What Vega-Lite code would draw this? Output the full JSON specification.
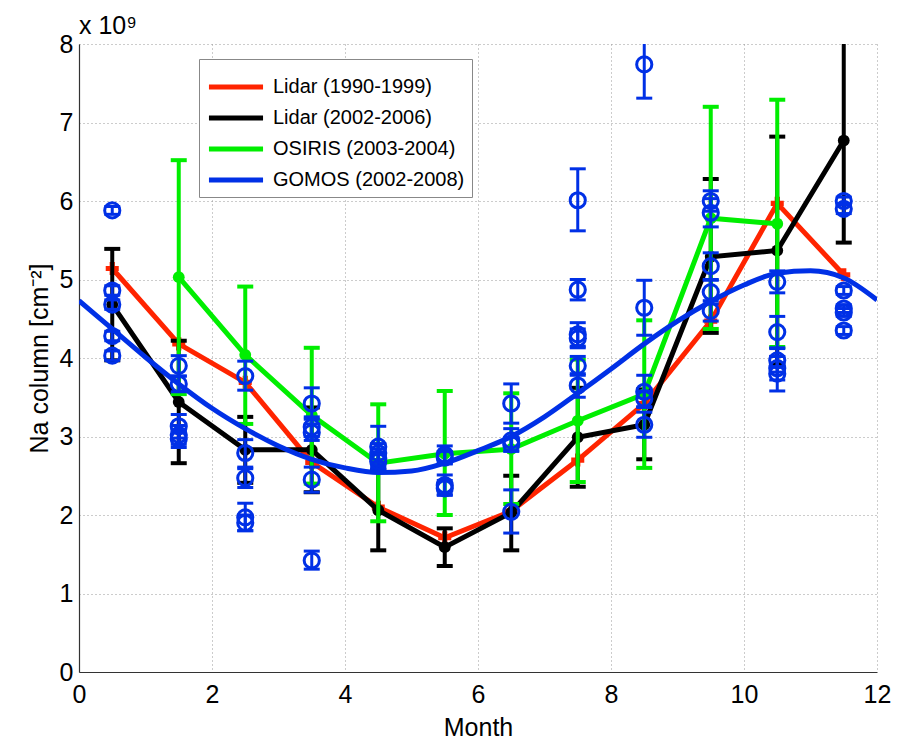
{
  "$schema": "https://vega.github.io/schema/vega-lite/v6.json",
  "width": 798,
  "height": 628,
  "autosize": {"type": "none"},
  "padding": {"left": 79, "top": 44, "right": 28, "bottom": 76},
  "background": "white",
  "title": {"text": "x 10⁹", "anchor": "start", "frame": "group", "fontSize": 25, "fontWeight": "normal", "font": "Liberation Sans", "color": "black", "offset": -7},
  "config": {
    "font": "Liberation Sans",
    "view": {"stroke": null},
    "axis": {
      "labelFont": "Liberation Sans", "labelFontSize": 25, "labelColor": "black", "labelFlush": false,
      "titleFont": "Liberation Sans", "titleFontSize": 25, "titleFontWeight": "normal", "titleColor": "black",
      "domainColor": "#333", "domainWidth": 1.2,
      "ticks": false,
      "grid": true, "gridColor": "#999", "gridDash": [1, 3], "gridWidth": 1, "gridOpacity": 1
    },
    "legend": {
      "orient": "none", "legendX": 120, "legendY": 15,
      "title": null,
      "symbolType": "M-1.5,0H1.5", "symbolSize": 1300, "symbolStrokeWidth": 5, "symbolOffset": 9,
      "labelFont": "Liberation Sans", "labelFontSize": 20, "labelColor": "black", "labelOffset": 16, "labelLimit": 400,
      "strokeColor": "#888", "fillColor": "white", "padding": 7, "rowPadding": -2
    }
  },
  "datasets": {
    "red": [
      {"month": 0.5, "na": 5.14, "series": "Lidar (1990-1999)"},
      {"month": 1.5, "na": 4.18, "series": "Lidar (1990-1999)"},
      {"month": 2.5, "na": 3.69, "series": "Lidar (1990-1999)"},
      {"month": 3.5, "na": 2.67, "series": "Lidar (1990-1999)"},
      {"month": 4.5, "na": 2.1, "series": "Lidar (1990-1999)"},
      {"month": 5.5, "na": 1.71, "series": "Lidar (1990-1999)"},
      {"month": 6.5, "na": 2.05, "series": "Lidar (1990-1999)"},
      {"month": 7.5, "na": 2.7, "series": "Lidar (1990-1999)"},
      {"month": 8.5, "na": 3.42, "series": "Lidar (1990-1999)"},
      {"month": 9.5, "na": 4.47, "series": "Lidar (1990-1999)"},
      {"month": 10.5, "na": 5.97, "series": "Lidar (1990-1999)"},
      {"month": 11.5, "na": 5.06, "series": "Lidar (1990-1999)"}
    ],
    "black": [
      {"month": 0.5, "na": 4.68, "lo": 3.97, "hi": 5.39, "series": "Lidar (2002-2006)"},
      {"month": 1.5, "na": 3.44, "lo": 2.66, "hi": 4.22, "series": "Lidar (2002-2006)"},
      {"month": 2.5, "na": 2.83, "lo": 2.41, "hi": 3.25, "series": "Lidar (2002-2006)"},
      {"month": 3.5, "na": 2.83, "lo": 2.29, "hi": 3.37, "series": "Lidar (2002-2006)"},
      {"month": 4.5, "na": 2.06, "lo": 1.55, "hi": 2.57, "series": "Lidar (2002-2006)"},
      {"month": 5.5, "na": 1.59, "lo": 1.35, "hi": 1.83, "series": "Lidar (2002-2006)"},
      {"month": 6.5, "na": 2.03, "lo": 1.55, "hi": 2.5, "series": "Lidar (2002-2006)"},
      {"month": 7.5, "na": 2.99, "lo": 2.36, "hi": 3.62, "series": "Lidar (2002-2006)"},
      {"month": 8.5, "na": 3.15, "lo": 2.71, "hi": 3.6, "series": "Lidar (2002-2006)"},
      {"month": 9.5, "na": 5.29, "lo": 4.32, "hi": 6.28, "series": "Lidar (2002-2006)"},
      {"month": 10.5, "na": 5.37, "lo": 3.92, "hi": 6.82, "series": "Lidar (2002-2006)"},
      {"month": 11.5, "na": 6.77, "lo": 5.47, "hi": 8.07, "series": "Lidar (2002-2006)"}
    ],
    "green": [
      {"month": 1.5, "na": 5.03, "lo": 3.54, "hi": 6.52, "series": "OSIRIS (2003-2004)"},
      {"month": 2.5, "na": 4.04, "lo": 3.16, "hi": 4.91, "series": "OSIRIS (2003-2004)"},
      {"month": 3.5, "na": 3.27, "lo": 2.4, "hi": 4.13, "series": "OSIRIS (2003-2004)"},
      {"month": 4.5, "na": 2.66, "lo": 1.92, "hi": 3.41, "series": "OSIRIS (2003-2004)"},
      {"month": 5.5, "na": 2.78, "lo": 2.0, "hi": 3.58, "series": "OSIRIS (2003-2004)"},
      {"month": 6.5, "na": 2.84, "lo": 2.14, "hi": 3.55, "series": "OSIRIS (2003-2004)"},
      {"month": 7.5, "na": 3.2, "lo": 2.42, "hi": 3.98, "series": "OSIRIS (2003-2004)"},
      {"month": 8.5, "na": 3.54, "lo": 2.6, "hi": 4.48, "series": "OSIRIS (2003-2004)"},
      {"month": 9.5, "na": 5.78, "lo": 4.37, "hi": 7.2, "series": "OSIRIS (2003-2004)"},
      {"month": 10.5, "na": 5.71, "lo": 4.14, "hi": 7.29, "series": "OSIRIS (2003-2004)"}
    ],
    "gomosfit": [
      {"month": 0, "na": 4.73, "series": "GOMOS (2002-2008)"},
      {"month": 0.5, "na": 4.37, "series": "GOMOS (2002-2008)"},
      {"month": 1, "na": 4.01, "series": "GOMOS (2002-2008)"},
      {"month": 1.5, "na": 3.67, "series": "GOMOS (2002-2008)"},
      {"month": 2, "na": 3.36, "series": "GOMOS (2002-2008)"},
      {"month": 2.5, "na": 3.1, "series": "GOMOS (2002-2008)"},
      {"month": 3, "na": 2.88, "series": "GOMOS (2002-2008)"},
      {"month": 3.5, "na": 2.71, "series": "GOMOS (2002-2008)"},
      {"month": 4, "na": 2.6, "series": "GOMOS (2002-2008)"},
      {"month": 4.5, "na": 2.54, "series": "GOMOS (2002-2008)"},
      {"month": 5, "na": 2.56, "series": "GOMOS (2002-2008)"},
      {"month": 5.5, "na": 2.66, "series": "GOMOS (2002-2008)"},
      {"month": 6, "na": 2.82, "series": "GOMOS (2002-2008)"},
      {"month": 6.5, "na": 3.0, "series": "GOMOS (2002-2008)"},
      {"month": 7, "na": 3.25, "series": "GOMOS (2002-2008)"},
      {"month": 7.5, "na": 3.55, "series": "GOMOS (2002-2008)"},
      {"month": 8, "na": 3.86, "series": "GOMOS (2002-2008)"},
      {"month": 8.5, "na": 4.18, "series": "GOMOS (2002-2008)"},
      {"month": 9, "na": 4.47, "series": "GOMOS (2002-2008)"},
      {"month": 9.5, "na": 4.72, "series": "GOMOS (2002-2008)"},
      {"month": 10, "na": 4.93, "series": "GOMOS (2002-2008)"},
      {"month": 10.5, "na": 5.08, "series": "GOMOS (2002-2008)"},
      {"month": 11, "na": 5.11, "series": "GOMOS (2002-2008)"},
      {"month": 11.5, "na": 5.02, "series": "GOMOS (2002-2008)"},
      {"month": 12, "na": 4.74, "series": "GOMOS (2002-2008)"}
    ],
    "gomos": [
      {"month": 0.5, "na": 5.88, "lo": 5.83, "hi": 5.93},
      {"month": 0.5, "na": 4.86, "lo": 4.8, "hi": 4.92},
      {"month": 0.5, "na": 4.68, "lo": 4.62, "hi": 4.74},
      {"month": 0.5, "na": 4.28, "lo": 4.22, "hi": 4.34},
      {"month": 0.5, "na": 4.03, "lo": 3.97, "hi": 4.09},
      {"month": 1.5, "na": 3.9, "lo": 3.77, "hi": 4.03},
      {"month": 1.5, "na": 3.67, "lo": 3.57, "hi": 3.77},
      {"month": 1.5, "na": 3.13, "lo": 2.98, "hi": 3.28},
      {"month": 1.5, "na": 3.02, "lo": 2.9, "hi": 3.14},
      {"month": 1.5, "na": 2.97, "lo": 2.86, "hi": 3.08},
      {"month": 2.5, "na": 3.77, "lo": 3.59, "hi": 3.96},
      {"month": 2.5, "na": 2.79, "lo": 2.61, "hi": 2.96},
      {"month": 2.5, "na": 2.47, "lo": 2.35, "hi": 2.59},
      {"month": 2.5, "na": 1.97, "lo": 1.8, "hi": 2.15},
      {"month": 2.5, "na": 1.9, "lo": 1.8, "hi": 2.0},
      {"month": 3.5, "na": 3.42, "lo": 3.22, "hi": 3.62},
      {"month": 3.5, "na": 3.12, "lo": 3.0, "hi": 3.25},
      {"month": 3.5, "na": 3.05, "lo": 2.95, "hi": 3.16},
      {"month": 3.5, "na": 2.45, "lo": 2.29, "hi": 2.61},
      {"month": 3.5, "na": 1.42, "lo": 1.31, "hi": 1.54},
      {"month": 4.5, "na": 2.87, "lo": 2.62, "hi": 3.13},
      {"month": 4.5, "na": 2.79, "lo": 2.67, "hi": 2.91},
      {"month": 4.5, "na": 2.72, "lo": 2.6, "hi": 2.84},
      {"month": 4.5, "na": 2.68, "lo": 2.58, "hi": 2.78},
      {"month": 5.5, "na": 2.77, "lo": 2.66, "hi": 2.88},
      {"month": 5.5, "na": 2.73, "lo": 2.65, "hi": 2.81},
      {"month": 5.5, "na": 2.38, "lo": 2.26, "hi": 2.51},
      {"month": 5.5, "na": 2.34, "lo": 2.25, "hi": 2.44},
      {"month": 6.5, "na": 3.42, "lo": 3.17, "hi": 3.67},
      {"month": 6.5, "na": 2.95, "lo": 2.82, "hi": 3.1},
      {"month": 6.5, "na": 2.9, "lo": 2.81, "hi": 2.99},
      {"month": 6.5, "na": 2.04, "lo": 1.77, "hi": 2.32},
      {"month": 7.5, "na": 6.01, "lo": 5.62, "hi": 6.41},
      {"month": 7.5, "na": 4.87, "lo": 4.74, "hi": 5.0},
      {"month": 7.5, "na": 4.3, "lo": 4.15, "hi": 4.45},
      {"month": 7.5, "na": 4.25, "lo": 4.13, "hi": 4.37},
      {"month": 7.5, "na": 3.9, "lo": 3.78, "hi": 4.02},
      {"month": 7.5, "na": 3.65, "lo": 3.5, "hi": 3.8},
      {"month": 8.5, "na": 7.74, "lo": 7.31, "hi": 8.17},
      {"month": 8.5, "na": 4.64, "lo": 4.29, "hi": 4.99},
      {"month": 8.5, "na": 3.57, "lo": 3.37, "hi": 3.78},
      {"month": 8.5, "na": 3.48, "lo": 3.38, "hi": 3.58},
      {"month": 8.5, "na": 3.15, "lo": 2.99, "hi": 3.31},
      {"month": 9.5, "na": 6.0, "lo": 5.87, "hi": 6.13},
      {"month": 9.5, "na": 5.85, "lo": 5.67, "hi": 6.03},
      {"month": 9.5, "na": 5.17, "lo": 5.0, "hi": 5.34},
      {"month": 9.5, "na": 4.84, "lo": 4.69, "hi": 4.99},
      {"month": 9.5, "na": 4.6, "lo": 4.47, "hi": 4.73},
      {"month": 10.5, "na": 4.97, "lo": 4.83, "hi": 5.11},
      {"month": 10.5, "na": 4.33, "lo": 4.13, "hi": 4.53},
      {"month": 10.5, "na": 3.97, "lo": 3.82, "hi": 4.12},
      {"month": 10.5, "na": 3.87, "lo": 3.72, "hi": 4.02},
      {"month": 10.5, "na": 3.8, "lo": 3.58, "hi": 4.02},
      {"month": 11.5, "na": 6.0, "lo": 5.95, "hi": 6.05},
      {"month": 11.5, "na": 5.9, "lo": 5.84, "hi": 5.96},
      {"month": 11.5, "na": 4.86, "lo": 4.81, "hi": 4.91},
      {"month": 11.5, "na": 4.63, "lo": 4.58, "hi": 4.68},
      {"month": 11.5, "na": 4.58, "lo": 4.53, "hi": 4.63},
      {"month": 11.5, "na": 4.35, "lo": 4.3, "hi": 4.4}
    ]
  },
  "encoding": {
    "x": {"field": "month", "type": "quantitative", "title": "Month",
      "scale": {"domain": [0, 12], "nice": false, "zero": false},
      "axis": {"values": [0, 2, 4, 6, 8, 10, 12], "labelPadding": 10, "titlePadding": 8}},
    "y": {"field": "na", "type": "quantitative", "title": "Na column [cm⁻²]",
      "scale": {"domain": [0, 8], "nice": false},
      "axis": {"values": [0, 1, 2, 3, 4, 5, 6, 7, 8], "labelPadding": 6, "titlePadding": 7}}
  },
  "layer": [
    {"data": {"name": "red"}, "mark": {"type": "line", "strokeWidth": 5, "clip": true},
      "encoding": {"color": {"field": "series", "type": "nominal",
        "scale": {"domain": ["Lidar (1990-1999)", "Lidar (2002-2006)", "OSIRIS (2003-2004)", "GOMOS (2002-2008)"], "range": ["#ff2400", "#000000", "#00ee00", "#0030e6"]}}}},
    {"data": {"name": "red"}, "mark": {"type": "point", "shape": "cross", "filled": true, "size": 170, "color": "#ff2400", "opacity": 1}},
    {"data": {"name": "black"}, "mark": {"type": "rule", "strokeWidth": 4, "color": "#000000", "clip": true},
      "encoding": {"y": {"field": "lo", "type": "quantitative"}, "y2": {"field": "hi"}}},
    {"data": {"name": "black"}, "mark": {"type": "tick", "orient": "horizontal", "size": 16, "thickness": 4, "color": "#000000", "clip": true, "opacity": 1},
      "encoding": {"y": {"field": "lo", "type": "quantitative"}}},
    {"data": {"name": "black"}, "mark": {"type": "tick", "orient": "horizontal", "size": 16, "thickness": 4, "color": "#000000", "clip": true, "opacity": 1},
      "encoding": {"y": {"field": "hi", "type": "quantitative"}}},
    {"data": {"name": "black"}, "mark": {"type": "line", "strokeWidth": 5, "clip": true},
      "encoding": {"color": {"field": "series", "type": "nominal"}}},
    {"data": {"name": "black"}, "mark": {"type": "point", "shape": "circle", "filled": true, "size": 140, "color": "#000000", "opacity": 1}},
    {"data": {"name": "green"}, "mark": {"type": "rule", "strokeWidth": 4, "color": "#00ee00", "clip": true},
      "encoding": {"y": {"field": "lo", "type": "quantitative"}, "y2": {"field": "hi"}}},
    {"data": {"name": "green"}, "mark": {"type": "tick", "orient": "horizontal", "size": 16, "thickness": 4, "color": "#00ee00", "clip": true, "opacity": 1},
      "encoding": {"y": {"field": "lo", "type": "quantitative"}}},
    {"data": {"name": "green"}, "mark": {"type": "tick", "orient": "horizontal", "size": 16, "thickness": 4, "color": "#00ee00", "clip": true, "opacity": 1},
      "encoding": {"y": {"field": "hi", "type": "quantitative"}}},
    {"data": {"name": "green"}, "mark": {"type": "line", "strokeWidth": 5, "clip": true},
      "encoding": {"color": {"field": "series", "type": "nominal"}}},
    {"data": {"name": "green"}, "mark": {"type": "point", "shape": "circle", "filled": true, "size": 140, "color": "#00ee00", "opacity": 1}},
    {"data": {"name": "gomos"}, "mark": {"type": "rule", "strokeWidth": 3, "color": "#0030e6", "clip": true},
      "encoding": {"y": {"field": "lo", "type": "quantitative"}, "y2": {"field": "hi"}}},
    {"data": {"name": "gomos"}, "mark": {"type": "tick", "orient": "horizontal", "size": 16, "thickness": 3, "color": "#0030e6", "clip": true, "opacity": 1},
      "encoding": {"y": {"field": "lo", "type": "quantitative"}}},
    {"data": {"name": "gomos"}, "mark": {"type": "tick", "orient": "horizontal", "size": 16, "thickness": 3, "color": "#0030e6", "clip": true, "opacity": 1},
      "encoding": {"y": {"field": "hi", "type": "quantitative"}}},
    {"data": {"name": "gomos"}, "mark": {"type": "point", "shape": "circle", "filled": false, "size": 230, "strokeWidth": 3, "color": "#0030e6", "opacity": 1, "clip": true}},
    {"data": {"name": "gomosfit"}, "mark": {"type": "line", "strokeWidth": 5, "interpolate": "monotone", "clip": true},
      "encoding": {"color": {"field": "series", "type": "nominal"}}}
  ]
}
